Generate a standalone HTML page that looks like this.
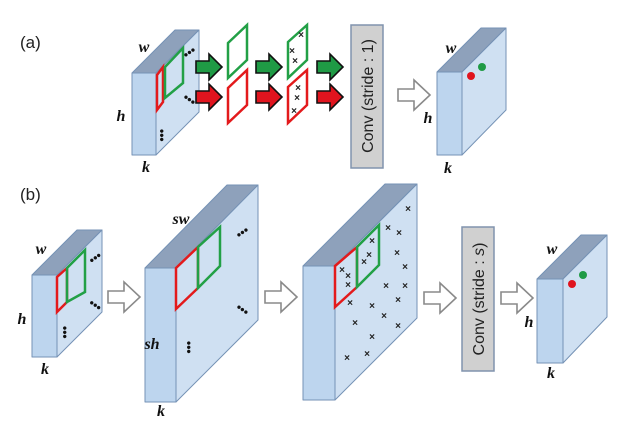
<!DOCTYPE html>
<html><head><meta charset="utf-8"><style>
html,body{margin:0;padding:0;background:#fff;}
svg{display:block;}
.lbl{font-family:"Liberation Serif",serif;font-style:italic;font-weight:bold;font-size:16px;fill:#111;}
.cap{font-family:"Liberation Sans",sans-serif;font-size:17px;fill:#222;}
.conv{font-family:"Liberation Sans",sans-serif;font-size:16px;fill:#222;}
.x{font-family:"Liberation Sans",sans-serif;font-size:10px;fill:#222;font-weight:bold;}
.dots{font-family:"Liberation Sans",sans-serif;font-size:12px;fill:#111;font-weight:bold;}
</style></head><body>
<svg width="629" height="426" viewBox="0 0 629 426" xmlns="http://www.w3.org/2000/svg">
<defs>
<g id="ga"><polygon points="0,-6 13,-6 13,-13 26,0 13,13 13,6 0,6" stroke="#111" stroke-width="1.6"/></g>
<g id="ha"><polygon points="0,-6 16,-6 16,-15 32,0 16,15 16,6 0,6" fill="#fff" stroke="#8a8a8a" stroke-width="1.6"/></g>
</defs>
<g stroke="#7592b5" stroke-width="1" stroke-linejoin="round">
<!-- (a) cube -->
<polygon points="132,73 156,73 199,30 175,30" fill="#8ea1bb"/>
<polygon points="156,73 199,30 199,112 156,155" fill="#cfe0f2"/>
<rect x="132" y="73" width="24" height="82" fill="#bdd5ee"/>
<!-- (a) output cube -->
<polygon points="437,72 462,72 506,28 481,28" fill="#8ea1bb"/>
<polygon points="462,72 506,28 506,110 462,155" fill="#cfe0f2"/>
<rect x="437" y="72" width="25" height="83" fill="#bdd5ee"/>
<!-- (b) cube1 -->
<polygon points="32,275 57,275 102,230 77,230" fill="#8ea1bb"/>
<polygon points="57,275 102,230 102,312 57,357" fill="#cfe0f2"/>
<rect x="32" y="275" width="25" height="82" fill="#bdd5ee"/>
<!-- (b) cube2 -->
<polygon points="145,268 176,268 258,185 227,185" fill="#8ea1bb"/>
<polygon points="176,268 258,185 258,320 176,402" fill="#cfe0f2"/>
<rect x="145" y="268" width="31" height="134" fill="#bdd5ee"/>
<!-- (b) cube3 -->
<polygon points="303,266 335,266 417,184 385,184" fill="#8ea1bb"/>
<polygon points="335,266 417,184 417,318 335,400" fill="#cfe0f2"/>
<rect x="303" y="266" width="32" height="134" fill="#bdd5ee"/>
<!-- (b) output cube -->
<polygon points="537,279 563,279 607,235 581,235" fill="#8ea1bb"/>
<polygon points="563,279 607,235 607,317 563,363" fill="#cfe0f2"/>
<rect x="537" y="279" width="26" height="84" fill="#bdd5ee"/>
</g>
<!-- frames -->
<g fill="none" stroke-width="2.5">
<polygon points="157,75 163,67 163,102 157,110" stroke="#e31a1c"/>
<polygon points="165,67 183,48 183,83 165,98" stroke="#22a046"/>
<polygon points="228,43 247,25 247,60 228,78" stroke="#22a046"/>
<polygon points="228,88 247,70 247,105 228,123" stroke="#e31a1c"/>
<polygon points="288,42 307,25 307,60 288,78" stroke="#22a046"/>
<polygon points="288,87 307,70 307,105 288,123" stroke="#e31a1c"/>
<polygon points="57,277 67,268 67,302 57,312" stroke="#e31a1c"/>
<polygon points="67,268 85,250 85,292 67,302" stroke="#22a046"/>
<polygon points="176,268 198,247 198,288 176,309" stroke="#e31a1c"/>
<polygon points="198,247 220,227 220,266 198,288" stroke="#22a046"/>
<polygon points="335,266 357,247 357,287 335,307" stroke="#e31a1c"/>
<polygon points="357,247 379,225 379,265 357,287" stroke="#22a046"/>
</g>
<!-- solid arrows -->
<use href="#ga" x="196" y="67" fill="#1f9a45"/>
<use href="#ga" x="196" y="97" fill="#e0141e"/>
<use href="#ga" x="256" y="67" fill="#1f9a45"/>
<use href="#ga" x="256" y="97" fill="#e0141e"/>
<use href="#ga" x="317" y="67" fill="#1f9a45"/>
<use href="#ga" x="317" y="97" fill="#e0141e"/>
<!-- hollow arrows -->
<use href="#ha" x="398" y="95"/>
<use href="#ha" x="108" y="297"/>
<use href="#ha" x="265" y="297"/>
<use href="#ha" x="424" y="298"/>
<use href="#ha" x="501" y="298"/>
<!-- conv boxes -->
<rect x="351" y="25" width="32" height="143" fill="#d0d0d0" stroke="#8093ad" stroke-width="1.5"/>
<text class="conv" transform="translate(373,96) rotate(-90)" text-anchor="middle">Conv (stride : 1)</text>
<rect x="462" y="227" width="32" height="144" fill="#d0d0d0" stroke="#8093ad" stroke-width="1.5"/>
<text class="conv" transform="translate(484,299) rotate(-90)" text-anchor="middle">Conv (stride : <tspan font-style="italic">s</tspan>)</text>
<!-- dots -->
<circle cx="471" cy="76" r="4" fill="#e0141e"/><circle cx="482" cy="67" r="4" fill="#1f9a45"/>
<circle cx="572" cy="284" r="4" fill="#e0141e"/><circle cx="583" cy="275" r="4" fill="#1f9a45"/>
<!-- ellipsis -->
<g class="dots">
<text x="183" y="56" transform="rotate(-35 190 52)">•••</text>
<text x="183" y="104" transform="rotate(35 190 100)">•••</text>
<text x="160" y="137" transform="rotate(90 163 132)">•••</text>
<text x="89" y="262" transform="rotate(-35 95 258)">•••</text>
<text x="89" y="309" transform="rotate(35 95 305)">•••</text>
<text x="61" y="334" transform="rotate(90 65 330)">•••</text>
<text x="236" y="236" transform="rotate(-35 243 232)">•••</text>
<text x="236" y="314" transform="rotate(35 243 310)">•••</text>
<text x="185" y="349" transform="rotate(90 189 345)">•••</text>
</g>
<!-- x marks -->
<g class="x" text-anchor="middle">
<text x="301" y="38">×</text><text x="292" y="54">×</text><text x="295" y="64">×</text>
<text x="298" y="91">×</text><text x="297" y="101">×</text><text x="294" y="114">×</text>
<text x="408" y="212">×</text><text x="388" y="231">×</text><text x="399" y="236">×</text><text x="397" y="256">×</text><text x="405" y="270">×</text><text x="386" y="289">×</text><text x="405" y="289">×</text><text x="398" y="303">×</text><text x="350" y="306">×</text><text x="372" y="309">×</text><text x="384" y="319">×</text><text x="355" y="326">×</text><text x="398" y="329">×</text><text x="372" y="340">×</text><text x="347" y="361">×</text><text x="367" y="357">×</text>
<text x="342" y="273">×</text><text x="348" y="279">×</text><text x="348" y="288">×</text>
<text x="372" y="244">×</text><text x="369" y="258">×</text><text x="364" y="265">×</text>
</g>
<!-- labels -->
<text class="cap" x="20" y="48">(a)</text>
<text class="cap" x="20" y="200">(b)</text>
<g class="lbl" text-anchor="middle">
<text x="144" y="52">w</text><text x="121" y="121">h</text><text x="146" y="172">k</text>
<text x="451" y="53">w</text><text x="428" y="123">h</text><text x="448" y="173">k</text>
<text x="41" y="254">w</text><text x="22" y="324">h</text><text x="45" y="374">k</text>
<text x="181" y="224">sw</text><text x="152" y="349">sh</text><text x="161" y="416">k</text>
<text x="552" y="254">w</text><text x="529" y="327">h</text><text x="551" y="378">k</text>
</g>
</svg>
</body></html>
